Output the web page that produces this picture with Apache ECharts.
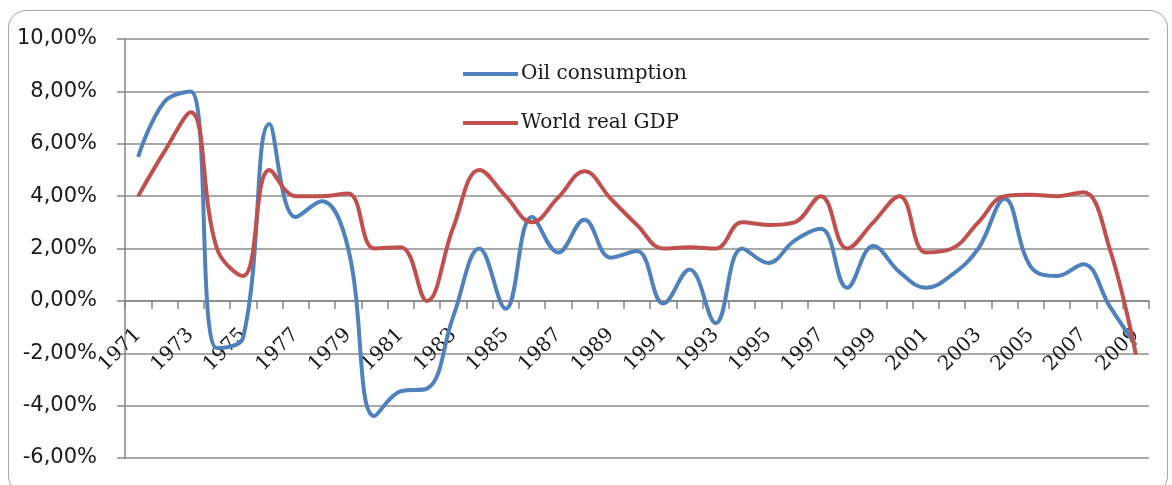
<!DOCTYPE html>
<html>
<head>
<meta charset="utf-8">
<script src="https://cdn.jsdelivr.net/npm/echarts@6/dist/echarts.min.js"></script>
<style>
  html, body { margin: 0; padding: 0; background: #fff; }
  .frame {
    position: absolute; left: 8px; top: 10px; width: 1158px; height: 482px;
    border: 1.5px solid #a6a6a6; border-radius: 18px;
  }
  #chart { position: absolute; left: 0; top: 0; width: 1172px; height: 485px; }
</style>
</head>
<body>
<div class="frame"></div>
<div id="chart"></div>
<script>
  // years on the category axis
  var years = [];
  for (var y = 1971; y <= 2009; y++) years.push(String(y));

  // annual growth, in percent
  var oilConsumption = [5.5, 7.6, 8.0, -1.8, -1.4, 6.75, 3.2, 3.8, 2.0, -4.4,
    -3.45, -3.35, -0.6, 2.0, -0.3, 3.2, 1.85, 3.1, 1.65, 1.9,
    -0.1, 1.2, -0.85, 2.0, 1.45, 2.3, 2.75, 0.5, 2.1, 1.1,
    0.5, 1.0, 2.0, 3.9, 1.3, 0.95, 1.4, -0.2, -1.7];
  var worldGdp = [4.0, 5.7, 7.2, 2.0, 0.95, 5.0, 4.0, 4.0, 4.1, 2.0,
    2.05, 0.0, 2.8, 5.0, 4.0, 3.0, 3.95, 4.95, 3.9, 2.9,
    2.0, 2.05, 2.0, 3.0, 2.9, 3.0, 4.0, 2.0, 3.0, 4.0,
    1.85, 2.0, 3.0, 4.0, 4.05, 4.0, 4.15, 2.0, -2.05];

  var gridTop = 39, gridBottom = 27, chartH = 485;
  var yMin = -6, yMax = 10;
  // labels sit under the zero line, as in the original
  var zeroOffset = -(chartH - gridTop - gridBottom) * (0 - yMin) / (yMax - yMin);

  var myChart = echarts.init(document.getElementById('chart'));
  var option = {
    animation: false,
    grid: {
      left: 125,
      right: 23,
      top: gridTop,
      bottom: gridBottom,
      outerBoundsMode: 'none'
    },
    legend: {
      orient: 'vertical',
      left: 458,
      top: 59,
      itemWidth: 55,
      itemHeight: 4,
      itemGap: 29,
      icon: 'rect',
      textStyle: {
        fontFamily: 'DejaVu Serif',
        fontSize: 20,
        color: '#1a1a1a',
        padding: [0, 0, 0, -2]
      },
      data: ['Oil consumption', 'World real GDP']
    },
    xAxis: [{
      type: 'category',
      data: years,
      boundaryGap: true,
      axisLine: {
        onZero: true,
        lineStyle: { color: '#868686', width: 1.5 }
      },
      axisTick: {
        show: true,
        interval: 0,
        length: 8,
        lineStyle: { color: '#868686', width: 1.5 }
      },
      axisLabel: { show: false }
    }, {
      type: 'category',
      data: years,
      position: 'bottom',
      offset: zeroOffset,
      boundaryGap: true,
      axisLine: { show: false, onZero: false },
      axisTick: { show: false },
      axisLabel: {
        interval: 1,
        rotate: 45,
        margin: 31,
        fontFamily: 'DejaVu Serif',
        fontSize: 20,
        color: '#1a1a1a'
      }
    }],
    yAxis: {
      type: 'value',
      min: yMin,
      max: yMax,
      interval: 2,
      axisLine: {
        show: true,
        lineStyle: { color: '#868686', width: 1.5 }
      },
      axisTick: {
        show: true,
        length: 8,
        lineStyle: { color: '#868686', width: 1.5 }
      },
      splitLine: {
        lineStyle: { color: '#8c8c8c', width: 1.5 }
      },
      axisLabel: {
        margin: 28,
        fontFamily: 'DejaVu Sans',
        fontSize: 21,
        color: '#1a1a1a',
        formatter: function (v) {
          return v.toFixed(2).replace('.', ',') + '%';
        }
      }
    },
    series: [
      {
        name: 'Oil consumption',
        type: 'line',
        data: oilConsumption,
        smooth: 0.4,
        symbol: 'none',
        color: '#4F81BD',
        lineStyle: { width: 4 }
      },
      {
        name: 'World real GDP',
        type: 'line',
        data: worldGdp,
        smooth: 0.4,
        symbol: 'none',
        color: '#C0504D',
        lineStyle: { width: 4 }
      }
    ]
  };
  myChart.setOption(option);
</script>
</body>
</html>
